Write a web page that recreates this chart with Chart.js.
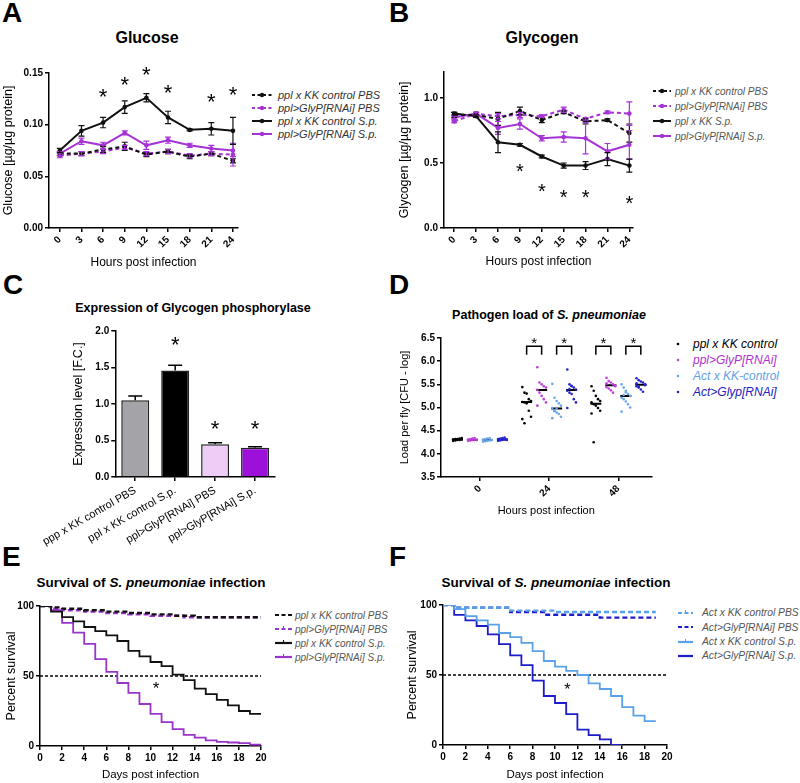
<!DOCTYPE html>
<html>
<head>
<meta charset="utf-8">
<script src="https://cdn.jsdelivr.net/npm/chart.js@4.4.1/dist/chart.umd.min.js"></script>
<style>
  body { margin: 0; background: #fff; font-family: "Liberation Sans", Arial, sans-serif; }
  #fig { position: relative; width: 800px; height: 783px; overflow: hidden; background: #fff; }
  canvas { position: absolute; }
  .letter { position: absolute; font-size: 28px; font-weight: bold; line-height: 28px; }
  .title { position: absolute; font-weight: bold; white-space: nowrap; transform: translate(-50%, -50%); line-height: 1; }
  .legend { position: absolute; font-style: italic; }
</style>
</head>
<body>
<div id="fig">
  <div class="letter" style="left:2px;top:-1px">A</div>
  <div class="letter" style="left:389px;top:-1px">B</div>
  <div class="letter" style="left:3px;top:271px">C</div>
  <div class="letter" style="left:389px;top:271px">D</div>
  <div class="letter" style="left:2px;top:543px">E</div>
  <div class="letter" style="left:389px;top:543px">F</div>

  <div class="title" style="left:147px;top:38px;font-size:16px">Glucose</div>
  <div class="title" style="left:542px;top:38px;font-size:16px">Glycogen</div>
  <div class="title" style="left:193px;top:308px;font-size:12.5px">Expression of Glycogen phosphorylase</div>
  <div class="title" style="left:549px;top:315px;font-size:12.5px">Pathogen load of <i>S. pneumoniae</i></div>
  <div class="title" style="left:151px;top:583px;font-size:13.5px">Survival of <i>S. pneumoniae</i> infection</div>
  <div class="title" style="left:556px;top:583px;font-size:13.5px">Survival of <i>S. pneumoniae</i> infection</div>

  <canvas id="cA" width="245" height="210" style="left:0;top:60px"></canvas>
  <canvas id="cB" width="244" height="209" style="left:396px;top:60px"></canvas>
  <canvas id="cC" width="250" height="230" style="left:30px;top:320px"></canvas>
  <canvas id="cD" width="262" height="193" style="left:397px;top:325px"></canvas>
  <canvas id="cE" width="268" height="187" style="left:4px;top:595px"></canvas>
  <canvas id="cF" width="272" height="187" style="left:405px;top:595px"></canvas>
</div>
<script>
// ---- A: glucose ----
const hours = [0, 3, 6, 9, 12, 15, 18, 21, 24];
const gluCtrlPBS = [0.072, 0.072, 0.076, 0.079, 0.071, 0.074, 0.069, 0.072, 0.065];
const gluCtrlPBSErr = [0.002, 0.002, 0.003, 0.004, 0.002, 0.002, 0.002, 0.002, 0.002];
const gluRnaiPBS = [0.070, 0.072, 0.074, 0.078, 0.072, 0.074, 0.070, 0.072, 0.071];
const gluRnaiPBSErr = [0.002, 0.002, 0.002, 0.002, 0.002, 0.002, 0.002, 0.002, 0.011];
const gluCtrlSp = [0.075, 0.094, 0.102, 0.117, 0.126, 0.107, 0.095, 0.096, 0.094];
const gluCtrlSpErr = [0.002, 0.005, 0.005, 0.006, 0.004, 0.006, 0.001, 0.006, 0.013];
const gluRnaiSp = [0.072, 0.084, 0.080, 0.092, 0.080, 0.085, 0.080, 0.077, 0.075];
const gluRnaiSpErr = [0.002, 0.003, 0.003, 0.002, 0.004, 0.003, 0.002, 0.003, 0.006];
const gluStarHours = [6, 9, 12, 15, 21, 24];
const gluStarY = [0.132, 0.144, 0.153, 0.136, 0.127, 0.134];
const gluTicks = [0, 0.05, 0.10, 0.15];
const gluLegend = ['ppl x KK control PBS', 'ppl>GlyP[RNAi] PBS', 'ppl x KK control S.p.', 'ppl>GlyP[RNAi] S.p.'];

// ---- B: glycogen ----
const glyCtrlPBS = [0.87, 0.87, 0.84, 0.90, 0.83, 0.89, 0.82, 0.83, 0.73];
const glyCtrlPBSErr = [0.02, 0.02, 0.05, 0.03, 0.02, 0.01, 0.02, 0.01, 0.07];
const glyRnaiPBS = [0.82, 0.88, 0.86, 0.87, 0.86, 0.91, 0.84, 0.89, 0.88];
const glyRnaiPBSErr = [0.01, 0.01, 0.02, 0.02, 0.01, 0.02, 0.01, 0.01, 0.09];
const glyCtrlSp = [0.88, 0.86, 0.66, 0.64, 0.55, 0.48, 0.48, 0.53, 0.48];
const glyCtrlSpErr = [0.01, 0.01, 0.08, 0.01, 0.01, 0.02, 0.03, 0.05, 0.05];
const glyRnaiSp = [0.85, 0.88, 0.77, 0.80, 0.69, 0.70, 0.69, 0.59, 0.64];
const glyRnaiSpErr = [0.01, 0.01, 0.05, 0.04, 0.02, 0.04, 0.12, 0.06, 0.11];
const glyStarHours = [9, 12, 15, 18, 24];
const glyStarY = [0.47, 0.32, 0.275, 0.275, 0.23];
const glyTicks = [0, 0.5, 1.0];
const glyLegend = ['ppl x KK control PBS', 'ppl>GlyP[RNAi] PBS', 'ppl x KK S.p.', 'ppl>GlyP[RNAi] S.p.'];

// ---- C: expression ----
const expLabels = ['ppp x KK control PBS', 'ppl x KK control S.p.', 'ppl>GlyP[RNAi] PBS', 'ppl>GlyP[RNAi] S.p.'];
const expValues = [1.05, 1.46, 0.45, 0.40];
const expErr = [0.06, 0.07, 0.02, 0.015];
const expColors = ['#a3a3a8', '#000000', '#edcdf5', '#9d10da'];
const expStarIdx = [1, 2, 3];
const expStarY = [1.88, 0.73, 0.73];
const expTicks = [0, 0.5, 1.0, 1.5, 2.0];

// ---- D: pathogen load (per time point: 0, 24, 48 h) ----
const loadHours = [0, 24, 48];
const loadPplCtrl = [
  [4.28, 4.29, 4.30, 4.30, 4.31, 4.31, 4.32, 4.32, 4.33, 4.34],
  [5.44, 5.32, 5.30, 5.18, 5.14, 5.12, 5.11, 5.09, 4.93, 4.80, 4.75, 4.66],
  [5.46, 5.36, 5.25, 5.18, 5.14, 5.11, 5.07, 5.04, 4.99, 4.93, 4.87, 4.25]
];
const loadPplRnai = [
  [4.28, 4.29, 4.30, 4.30, 4.31, 4.31, 4.32, 4.33, 4.34, 4.30],
  [5.87, 5.54, 5.50, 5.46, 5.43, 5.38, 5.32, 5.25, 5.18, 5.11, 5.04],
  [5.64, 5.57, 5.54, 5.50, 5.48, 5.44, 5.41, 5.37, 5.32, 5.46, 5.52]
];
const loadActCtrl = [
  [4.26, 4.27, 4.28, 4.29, 4.30, 4.31, 4.32, 4.33, 4.34, 4.30, 4.29],
  [5.51, 5.21, 5.14, 5.09, 5.04, 4.99, 4.94, 4.89, 4.86, 4.80, 4.77, 4.92, 4.97],
  [5.50, 5.43, 5.36, 5.29, 5.25, 5.21, 5.18, 5.13, 5.07, 5.00, 4.91, 5.27, 5.33]
];
const loadActRnai = [
  [4.28, 4.29, 4.30, 4.31, 4.31, 4.32, 4.33, 4.34, 4.35, 4.30],
  [5.82, 5.50, 5.46, 5.43, 5.39, 5.36, 5.32, 5.29, 5.18, 5.11, 4.99, 5.40, 5.47],
  [5.63, 5.59, 5.56, 5.54, 5.50, 5.46, 5.43, 5.39, 5.34, 5.48, 5.52, 5.45]
];
const loadMedians = [[4.31, 4.30, 4.30, 4.31], [5.12, 5.38, 4.98, 5.38], [5.08, 5.48, 5.25, 5.49]];
const loadTicks = [3.5, 4.0, 4.5, 5.0, 5.5, 6.0, 6.5];
const loadLegend = ['ppl x KK control', 'ppl>GlyP[RNAi]', 'Act x KK-control', 'Act>Glyp[RNAi]'];
const sigHours = [24, 24, 48, 48];
const sigPairs = [[0, 1], [2, 3], [0, 1], [2, 3]];

// ---- E / F: survival (percent) ----
const survDaysE = [0, 1, 2, 3, 4, 5, 6, 7, 8, 9, 10, 11, 12, 13, 14, 15, 16, 17, 18, 19, 20];
const survEctrlPBS = [100, 99, 98, 98, 97, 97, 96, 96, 95, 95, 94, 94, 93, 93, 92, 92, 92, 92, 92, 92, 92];
const survErnaiPBS = [100, 98, 97, 97, 96, 96, 95, 95, 94, 94, 93, 93, 93, 92, 92, 92, 92, 92, 92, 92, 92];
const survEctrlSp = [100, 96, 92, 89, 85, 82, 79, 75, 68, 64, 60, 57, 51, 47, 41, 37, 33, 29, 25, 23, 23];
const survErnaiSp = [100, 97, 88, 81, 73, 62, 53, 45, 38, 30, 23, 17, 12, 8, 6, 4, 3, 2.5, 2, 1, 1];
const survLegendE = ['ppl x KK control PBS', 'ppl>GlyP[RNAi] PBS', 'ppl x KK control S.p.', 'ppl>GlyP[RNAi] S.p.'];

const survDaysF = [0, 1, 2, 3, 4, 5, 6, 7, 8, 9, 10, 11, 12, 13, 14, 15, 16, 17, 18, 19];
const survFctrlPBS = [100, 98, 98, 98, 98, 98, 96, 96, 96, 96, 95, 95, 95, 95, 95, 95, 95, 95, 95, 95];
const survFrnaiPBS = [100, 98, 98, 98, 98, 98, 95, 95, 95, 93, 93, 93, 93, 93, 91, 91, 91, 91, 91, 91];
const survFctrlSp = [100, 97, 92, 89, 86, 80, 77, 73, 67, 60, 56, 53, 50, 44, 40, 35, 27, 21, 17, 17];
const survFrnaiSp = [100, 93, 89, 85, 79, 72, 64, 57, 46, 35, 30, 22, 11, 7, 4, 0, 0];
const survLegendF = ['Act x KK control PBS', 'Act>GlyP[RNAi] PBS', 'Act x KK control S.p.', 'Act>GlyP[RNAi] S.p.'];

const refDays = [0, 20];
const refLevel = [50, 50];
const survTicksX = [0, 2, 4, 6, 8, 10, 12, 14, 16, 18, 20];
const survTicksY = [0, 50, 100];
const survStarE = [10.5, 44];
const survStarF = [11.1, 42];

const BLACK = '#111111';
const PURPLE = '#a633d6';
const FONT = '"Liberation Sans", Arial, sans-serif';

Chart.defaults.font.family = FONT;
Chart.defaults.color = '#000';
Chart.defaults.animation = false;

// axis helpers
function yAxis(o) {
  return {
    type: 'linear', min: o.min, max: o.max,
    afterBuildTicks: s => { s.ticks = o.ticks.map(v => ({ value: v })); },
    afterFit: s => { s.width = o.width; },
    border: { display: true, color: '#000', width: 1.5 },
    grid: { drawOnChartArea: false, drawTicks: true, tickLength: 4, color: '#000', lineWidth: 1.5 },
    ticks: { font: { size: 10, weight: 'bold' }, padding: 2, color: '#000', callback: o.fmt },
    title: { display: !!o.title, text: o.title, font: { size: o.size }, padding: 0, color: '#000' }
  };
}
function xAxis(o) {
  return {
    type: 'linear', min: o.min, max: o.max,
    afterBuildTicks: s => { s.ticks = o.ticks.map(v => ({ value: v })); },
    afterFit: s => { s.height = o.height; },
    border: { display: true, color: '#000', width: 1.5 },
    grid: { drawOnChartArea: false, drawTicks: true, tickLength: 4, color: '#000', lineWidth: 1.5 },
    ticks: { font: { size: 10, weight: 'bold' }, padding: 2, color: '#000', autoSkip: false,
             minRotation: o.rot || 0, maxRotation: o.rot || 0, callback: v => String(v) },
    title: { display: !!o.title, text: o.title, font: { size: o.size }, padding: 0, color: '#000' }
  };
}

// vertical error bars from dataset.errors
const errorBars = {
  id: 'errorBars',
  afterDatasetsDraw(chart) {
    const ctx = chart.ctx, ys = chart.scales.y;
    chart.data.datasets.forEach((ds, i) => {
      if (!ds.errors) return;
      const meta = chart.getDatasetMeta(i);
      ctx.save();
      ctx.strokeStyle = ds.errColor || ds.borderColor;
      ctx.lineWidth = ds.errWidth || 1.2;
      ctx.setLineDash([]);
      meta.data.forEach((el, j) => {
        const raw = ds.data[j];
        const v = typeof raw === 'object' ? raw.y : raw;
        const e = ds.errors[j];
        const top = ys.getPixelForValue(v + e);
        const bot = ys.getPixelForValue(ds.upOnly ? v : v - e);
        const w = ds.cap || 3;
        ctx.beginPath();
        ctx.moveTo(el.x, top); ctx.lineTo(el.x, bot);
        ctx.moveTo(el.x - w, top); ctx.lineTo(el.x + w, top);
        if (!ds.upOnly) { ctx.moveTo(el.x - w, bot); ctx.lineTo(el.x + w, bot); }
        ctx.stroke();
      });
      ctx.restore();
    });
  }
};

function starMarks(xv, yv, size) {
  return {
    id: 'stars',
    afterDatasetsDraw(chart) {
      const ctx = chart.ctx, xs = chart.scales.x, ys = chart.scales.y;
      ctx.save();
      ctx.fillStyle = '#000';
      ctx.font = size + 'px ' + FONT;
      ctx.textAlign = 'center';
      ctx.textBaseline = 'alphabetic';
      xv.forEach((x, i) => {
        ctx.fillText('*', xs.getPixelForValue(x), ys.getPixelForValue(yv[i]) + size * 0.57);
      });
      ctx.restore();
    }
  };
}

function timeSeries(vals, errs, color, dashed) {
  return {
    data: hours.map((h, i) => ({ x: h, y: vals[i] })),
    errors: errs,
    borderColor: color, backgroundColor: color,
    borderWidth: 2, borderDash: dashed ? [4, 3] : [],
    pointRadius: 2.3, pointBorderWidth: 0, pointBackgroundColor: color,
    tension: 0
  };
}

const baseOpts = (pad) => ({
  responsive: false, animation: false,
  layout: { padding: pad },
  plugins: { legend: { display: false }, tooltip: { enabled: false } }
});

// ---- A ----
new Chart(document.getElementById('cA'), {
  type: 'line',
  data: { datasets: [
    timeSeries(gluCtrlPBS, gluCtrlPBSErr, BLACK, true),
    timeSeries(gluRnaiPBS, gluRnaiPBSErr, PURPLE, true),
    timeSeries(gluRnaiSp, gluRnaiSpErr, PURPLE, false),
    timeSeries(gluCtrlSp, gluCtrlSpErr, BLACK, false)
  ]},
  options: Object.assign(baseOpts({ left: 1, top: 13, right: 7, bottom: 0 }), {
    scales: {
      x: xAxis({ min: -1.5, max: 24.7, ticks: hours, rot: 45, height: 42, title: 'Hours post infection', size: 12 }),
      y: yAxis({ min: 0, max: 0.15, ticks: gluTicks, fmt: v => v.toFixed(2), width: 48, title: 'Glucose [µg/µg protein]', size: 12.5 })
    }
  }),
  plugins: [errorBars, starMarks(gluStarHours, gluStarY, 22)]
});

// ---- B ----
new Chart(document.getElementById('cB'), {
  type: 'line',
  data: { datasets: [
    timeSeries(glyCtrlPBS, glyCtrlPBSErr, BLACK, true),
    timeSeries(glyRnaiPBS, glyRnaiPBSErr, PURPLE, true),
    timeSeries(glyRnaiSp, glyRnaiSpErr, PURPLE, false),
    timeSeries(glyCtrlSp, glyCtrlSpErr, BLACK, false)
  ]},
  options: Object.assign(baseOpts({ left: 1, top: 12, right: 7, bottom: 0 }), {
    scales: {
      x: xAxis({ min: -1.4, max: 24.5, ticks: hours, rot: 45, height: 41, title: 'Hours post infection', size: 12 }),
      y: yAxis({ min: 0, max: 1.2, ticks: glyTicks, fmt: v => v.toFixed(1), width: 47, title: 'Glycogen [µg/µg protein]', size: 12.5 })
    }
  }),
  plugins: [errorBars, starMarks(glyStarHours, glyStarY, 20)]
});

// ---- C ----
const cX = xAxis({ height: 73, ticks: [], rot: 30 });
cX.type = 'category';
delete cX.min; delete cX.max; delete cX.afterBuildTicks;
cX.offset = true;
cX.grid.offset = false;
cX.ticks = { font: { size: 11 }, color: '#000', padding: 3, autoSkip: false, minRotation: 30, maxRotation: 30 };
new Chart(document.getElementById('cC'), {
  type: 'bar',
  data: {
    labels: expLabels,
    datasets: [{
      data: expValues, errors: expErr, upOnly: true, errColor: '#000', errWidth: 1.5, cap: 7,
      backgroundColor: expColors, borderColor: '#222', borderWidth: 1.5,
      barPercentage: 0.7, categoryPercentage: 1.0
    }]
  },
  options: Object.assign(baseOpts({ left: 41, top: 11, right: 5, bottom: 0 }), {
    scales: {
      x: cX,
      y: yAxis({ min: 0, max: 2.0, ticks: expTicks, fmt: v => v.toFixed(1), width: 44, title: 'Expression level [F.C.]', size: 12.5 })
    }
  }),
  plugins: [errorBars, starMarks(expStarIdx, expStarY, 22)]
});

// ---- D ----
const subOffsets = [-7.8, -2.6, 2.6, 7.8];
function swarm(groups, k) {
  const pts = [];
  groups.forEach((vals, g) => {
    vals.forEach((v, i) => pts.push({ x: loadHours[g] + subOffsets[k] + ((i % 5) - 2) * 0.75, y: v }));
  });
  return pts;
}
const dColors = ['#000000', '#c040d8', '#68a8ea', '#2424c8'];
const medianPts = [];
loadMedians.forEach((row, g) => row.forEach((m, k) => medianPts.push({ x: loadHours[g] + subOffsets[k], y: m })));
const sigMarks = {
  id: 'sigMarks',
  afterDatasetsDraw(chart) {
    const ctx = chart.ctx, xs = chart.scales.x, ys = chart.scales.y;
    const top = ys.getPixelForValue(6.32), leg = ys.getPixelForValue(6.14), star = ys.getPixelForValue(6.47);
    ctx.save();
    ctx.strokeStyle = '#000'; ctx.lineWidth = 1.5; ctx.fillStyle = '#000';
    ctx.font = '15px ' + FONT; ctx.textAlign = 'center';
    sigHours.forEach((h, i) => {
      const x1 = xs.getPixelForValue(h + subOffsets[sigPairs[i][0]]);
      const x2 = xs.getPixelForValue(h + subOffsets[sigPairs[i][1]]);
      ctx.beginPath();
      ctx.moveTo(x1, leg); ctx.lineTo(x1, top); ctx.lineTo(x2, top); ctx.lineTo(x2, leg);
      ctx.stroke();
      ctx.fillText('*', (x1 + x2) / 2, star + 15 * 0.57);
    });
    ctx.restore();
  }
};
new Chart(document.getElementById('cD'), {
  type: 'scatter',
  data: { datasets: [
    { data: swarm(loadPplCtrl, 0), backgroundColor: dColors[0], pointRadius: 1.3, borderWidth: 0 },
    { data: swarm(loadPplRnai, 1), backgroundColor: dColors[1], pointRadius: 1.3, borderWidth: 0 },
    { data: swarm(loadActCtrl, 2), backgroundColor: dColors[2], pointRadius: 1.3, borderWidth: 0 },
    { data: swarm(loadActRnai, 3), backgroundColor: dColors[3], pointRadius: 1.3, borderWidth: 0 },
    { data: medianPts, pointStyle: 'line', pointRadius: 5.5, borderColor: '#000', borderWidth: 2 }
  ]},
  options: Object.assign(baseOpts({ left: 1, top: 13, right: 6, bottom: 0 }), {
    scales: {
      x: xAxis({ min: -13.5, max: 59.5, ticks: loadHours, rot: 45, height: 41, title: 'Hours post infection', size: 11 }),
      y: yAxis({ min: 3.5, max: 6.5, ticks: loadTicks, fmt: v => v.toFixed(1), width: 43, title: 'Load per fly [CFU - log]', size: 11 })
    }
  }),
  plugins: [sigMarks]
});

// ---- E / F ----
function stepSet(days, vals, color, dash, width) {
  return {
    data: vals.map((v, i) => ({ x: days[i], y: v })),
    borderColor: color, borderWidth: width, borderDash: dash,
    stepped: true, pointRadius: 0, fill: false
  };
}
function survChart(id, pad, yw, xh, sets, star, starSize) {
  new Chart(document.getElementById(id), {
    type: 'line',
    data: { datasets: sets.concat([stepSet(refDays, refLevel, '#000', [3, 2], 1.5)]) },
    options: Object.assign(baseOpts(pad), {
      scales: {
        x: xAxis({ min: 0, max: 20, ticks: survTicksX, height: xh, title: 'Days post infection', size: 11.5 }),
        y: yAxis({ min: 0, max: 100, ticks: survTicksY, fmt: v => String(v), width: yw, title: 'Percent survival', size: 12.5 })
      }
    }),
    plugins: [starMarks([star[0]], [star[1]], starSize)]
  });
}
const E_PURPLE = '#9a35cc', F_LIGHT = '#5aa2e8', F_DARK = '#1c1cc8';
survChart('cE', { left: 0, top: 11, right: 11, bottom: 0 }, 36, 36, [
  stepSet(survDaysE, survEctrlSp, BLACK, [], 1.8),
  stepSet(survDaysE, survErnaiSp, E_PURPLE, [], 1.8),
  stepSet(survDaysE, survEctrlPBS, BLACK, [5, 3], 2.4),
  stepSet(survDaysE, survErnaiPBS, E_PURPLE, [5, 3], 2.4)
], survStarE, 17);
survChart('cF', { left: 0, top: 10, right: 10, bottom: 0 }, 38, 37, [
  stepSet(survDaysF, survFctrlSp, F_LIGHT, [], 1.8),
  stepSet(survDaysF, survFrnaiSp, F_DARK, [], 1.8),
  stepSet(survDaysF, survFctrlPBS, F_LIGHT, [5, 3], 2.4),
  stepSet(survDaysF, survFrnaiPBS, F_DARK, [5, 3], 2.4)
], survStarF, 16);

// ---- HTML legends ----
function legend(left, top, gap, labels, styles, o) {
  const box = document.createElement('div');
  box.className = 'legend';
  box.style.left = left + 'px';
  box.style.top = (top - gap / 2) + 'px';
  box.style.fontSize = o.size + 'px';
  labels.forEach((label, i) => {
    const st = styles[i];
    const row = document.createElement('div');
    row.style.cssText = 'position:absolute;left:0;white-space:nowrap;display:flex;align-items:center;top:' +
      (i * gap) + 'px;height:' + gap + 'px';
    const sw = o.sw;
    let s = '<svg width="' + sw + '" height="10" style="flex:none;margin-right:' + o.gapText + 'px">';
    if (o.kind === 'dot') {
      s += '<circle cx="' + sw / 2 + '" cy="5" r="1.3" fill="' + st.color + '"/>';
    } else {
      s += '<line x1="0" y1="5" x2="' + sw + '" y2="5" stroke="' + st.color + '" stroke-width="' + o.lw + '"' +
        (st.dash ? ' stroke-dasharray="' + st.dash + '"' : '') + '/>';
      if (o.kind === 'marker') s += '<circle cx="' + sw / 2 + '" cy="5" r="2.2" fill="' + st.color + '"/>';
      if (o.kind === 'tick' && st.tick) s += '<line x1="' + sw / 2 + '" y1="2" x2="' + sw / 2 + '" y2="5" stroke="' + st.color + '" stroke-width="1"/>';
    }
    s += '</svg>';
    row.innerHTML = s;
    const span = document.createElement('span');
    span.textContent = label;
    span.style.color = st.text || o.color;
    row.appendChild(span);
    box.appendChild(row);
  });
  document.getElementById('fig').appendChild(box);
}
const abStyles = [
  { color: BLACK, dash: '3,2.5' }, { color: PURPLE, dash: '3,2.5' }, { color: BLACK }, { color: PURPLE }
];
legend(252, 95, 13, gluLegend, abStyles, { kind: 'marker', sw: 20, gapText: 6, lw: 2, size: 11, color: '#333' });
legend(653, 91, 15, glyLegend, abStyles, { kind: 'marker', sw: 18, gapText: 4, lw: 2, size: 10, color: '#555' });
legend(676, 344, 16, loadLegend, [
  { color: dColors[0], text: '#000' }, { color: dColors[1], text: '#b030d0' },
  { color: dColors[2], text: '#60a0e8' }, { color: dColors[3], text: '#2020c0' }
], { kind: 'dot', sw: 4, gapText: 13, size: 12 });
legend(275, 615, 14, survLegendE, [
  { color: BLACK, dash: '4,2.5' }, { color: E_PURPLE, dash: '4,2.5', tick: true },
  { color: BLACK, tick: true }, { color: E_PURPLE, tick: true }
], { kind: 'tick', sw: 17, gapText: 3, lw: 2.2, size: 10, color: '#555' });
legend(678, 613, 14.3, survLegendF, [
  { color: F_LIGHT, dash: '4,2.5', tick: true }, { color: F_DARK, dash: '4,2.5' },
  { color: F_LIGHT, tick: true }, { color: F_DARK }
], { kind: 'tick', sw: 15, gapText: 9, lw: 2.2, size: 10.3, color: '#555' });
</script>
</body>
</html>
